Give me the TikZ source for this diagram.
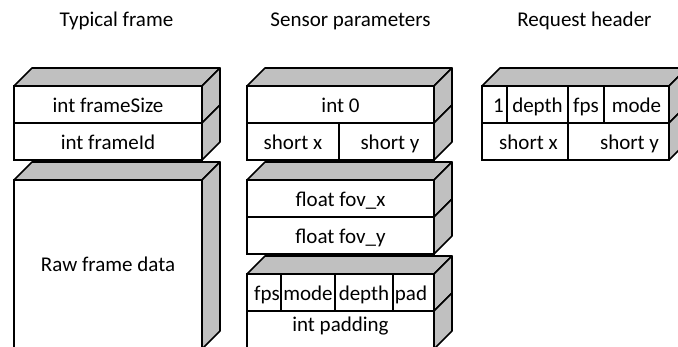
\documentclass[tikz,border=0pt]{standalone}
\usepackage{fontspec}
\setmainfont{Carlito}
\definecolor{facegray}{HTML}{C0C0C0}
\tikzset{
  face/.style={fill=facegray, draw=black, line width=1.6pt, line join=round},
  cell/.style={draw=black, fill=white, line width=1.6pt, minimum height=37pt,
    text height=17pt, text depth=0pt, inner sep=0pt,
    font=\fontsize{21}{25}\selectfont},
  title/.style={anchor=base, inner sep=0pt, font=\fontsize{21}{25}\selectfont}
}
% top face of a block: front-left x, front-top y, width
\newcommand\topface[3]{\filldraw[face] (#1,#2) -- ++(18,-18) -- ++(#3,0) -- ++(-18,18) -- cycle;}
% right face of one row: front-right x, row top y, row bottom y
\newcommand\sideface[3]{\filldraw[face] (#1,#2) -- ++(18,-18) -- ({#1+18},{#3-18}) -- (#1,#3) -- cycle;}
\begin{document}
\begin{tikzpicture}[x=1pt,y=-1pt]
\useasboundingbox (0,0) rectangle (678,347);
\clip (0,0) rectangle (678,347);

% column titles
\node[title] (t1) at (116.5,27) {Typical frame};
\node[title] (t2) at (350.5,27) {Sensor parameters};
\node[title] (t3) at (584.5,27) {Request header};

% ---- typical frame ----
\topface{14}{86}{188}
\sideface{202}{86}{123}
\sideface{202}{123}{160}
\node[cell, minimum width=188pt] (fsize) at (108,104.5) {int frameSize};
\node[cell, minimum width=188pt] (fid) at (108,141.5) {int frameId};
\topface{14}{180}{188}
\sideface{202}{180}{349}
\node[cell, minimum width=188pt, minimum height=169pt, text depth=2.6pt] (raw) at (108,264.5) {Raw frame data};

% ---- sensor parameters ----
\topface{247}{86}{187}
\sideface{434}{86}{123}
\sideface{434}{123}{160}
\node[cell, minimum width=187pt] (int0) at (340.5,104.5) {int 0};
\node[cell, minimum width=92pt] (sx) at (293,141.5) {short x};
\node[cell, minimum width=95pt] (sy) at (386.5,141.5) {\hspace*{7pt}short y};

\topface{247}{180}{187}
\sideface{434}{180}{217}
\sideface{434}{217}{254}
\node[cell, minimum width=187pt] (fovx) at (340.5,198.5) {float fov\_x};
\node[cell, minimum width=187pt] (fovy) at (340.5,235.5) {float fov\_y};

\topface{247}{274}{187}
\sideface{434}{274}{311}
\sideface{434}{311}{349}
\node[cell, minimum width=34pt] (fps) at (264,292.5) {\hspace*{6pt}fps};
\node[cell, minimum width=54pt] (mode) at (308,292.5) {mode};
\node[cell, minimum width=58pt] (depth) at (364,292.5) {depth};
\node[cell, minimum width=41pt] (pad) at (413.5,292.5) {pad\hspace*{5pt}};
\node[cell, minimum width=187pt, minimum height=38pt, text depth=14pt] (padding) at (340.5,330) {int padding};

% ---- request header ----
\topface{482}{86}{187}
\sideface{669}{86}{123}
\sideface{669}{123}{160}
\node[cell, minimum width=25pt] (one) at (494.5,104.5) {\hspace*{8pt}1};
\node[cell, minimum width=61pt] (rdepth) at (537.5,104.5) {depth};
\node[cell, minimum width=36pt] (rfps) at (586,104.5) {fps};
\node[cell, minimum width=65pt] (rmode) at (636.5,104.5) {mode};
\node[cell, minimum width=86pt] (rsx) at (525,141.5) {\hspace*{7pt}short x};
\node[cell, minimum width=101pt] (rsy) at (618.5,141.5) {\hspace*{22pt}short y};
\end{tikzpicture}
\end{document}
